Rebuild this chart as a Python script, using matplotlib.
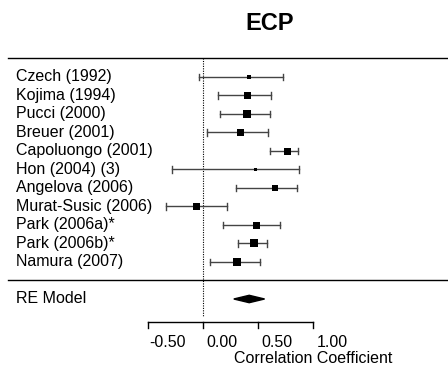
import numpy as np
import matplotlib.pyplot as plt
from matplotlib.patches import Polygon
from matplotlib.transforms import ScaledTranslation

plt.rcParams['font.family'] = ['Liberation Sans', 'DejaVu Sans']

studies = ['Czech (1992)', 'Kojima (1994)', 'Pucci (2000)', 'Breuer (2001)',
           'Capoluongo (2001)', 'Hon (2004) (3)', 'Angelova (2006)',
           'Murat-Susic (2006)', 'Park (2006a)*', 'Park (2006b)*', 'Namura (2007)']
est = [0.42, 0.40, 0.40, 0.34, 0.76, 0.47, 0.65, -0.06, 0.48, 0.46, 0.31]
ci_lo = [-0.04, 0.14, 0.15, 0.04, 0.61, -0.28, 0.30, -0.34, 0.18, 0.32, 0.06]
ci_hi = [0.73, 0.62, 0.61, 0.59, 0.86, 0.87, 0.85, 0.22, 0.70, 0.58, 0.52]
box_px = [5, 7, 7.5, 7, 7, 3, 5.5, 7, 7, 8, 7.5]

re_est, re_lo, re_hi = 0.42, 0.28, 0.56
ticks = [-0.5, 0.0, 0.5, 1.0]
tick_labels = ['-0.50', '0.00', '0.50', '1.00']

fig = plt.figure(figsize=(4.48, 3.73), dpi=100)
ax = fig.add_axes([0, 0, 1, 1])
ax.set_xlim(-203 / 110, 245 / 110)
ax.set_ylim(-5.0, 15.16)
ax.axis('off')

n = len(studies)
rows = np.arange(n, 0, -1)
fs = 11.5

# separators and reference line
ax.plot([-1.77, 2.3], [12, 12], color='black', lw=1)
ax.plot([-1.77, 2.3], [0, 0], color='black', lw=1)
ax.plot([0, 0], [12, -2.0], color='black', lw=0.8, ls=(0, (1, 1.2)))

for y, name, e, lo, hi, s in zip(rows, studies, est, ci_lo, ci_hi, box_px):
    ax.plot([lo, hi], [y, y], color='#444444', lw=1)
    ax.plot([lo, lo], [y - 0.17, y + 0.17], color='#444444', lw=1)
    ax.plot([hi, hi], [y - 0.17, y + 0.17], color='#444444', lw=1)
    ax.plot(e, y, marker='s', ms=s * 0.72, color='black', mew=0)
    ax.text(-1.70, y, name, fontsize=fs, va='center', ha='left')

# RE model
ax.add_patch(Polygon([[re_lo, -1], [re_est, -0.8], [re_hi, -1], [re_est, -1.2]],
                     closed=True, color='black'))
ax.text(-1.70, -1, 'RE Model', fontsize=fs, va='center', ha='left')

# x axis
ya = -2.24
ax.plot([ticks[0], ticks[-1]], [ya, ya], color='black', lw=1)
off = ScaledTranslation(19 / 100, 0, fig.dpi_scale_trans)
for t, lab in zip(ticks, tick_labels):
    ax.plot([t, t], [ya, ya - 0.32], color='black', lw=1)
    ax.text(t, ya - 1.1, lab, fontsize=fs, ha='center', va='center',
            transform=ax.transData + off)
ax.text(1.00, -4.2, 'Correlation Coefficient', fontsize=fs, ha='center', va='center')

ax.text(0.61, 13.9, 'ECP', fontsize=17, fontweight='bold', ha='center', va='center')

fig.savefig('out.png', dpi=100)
